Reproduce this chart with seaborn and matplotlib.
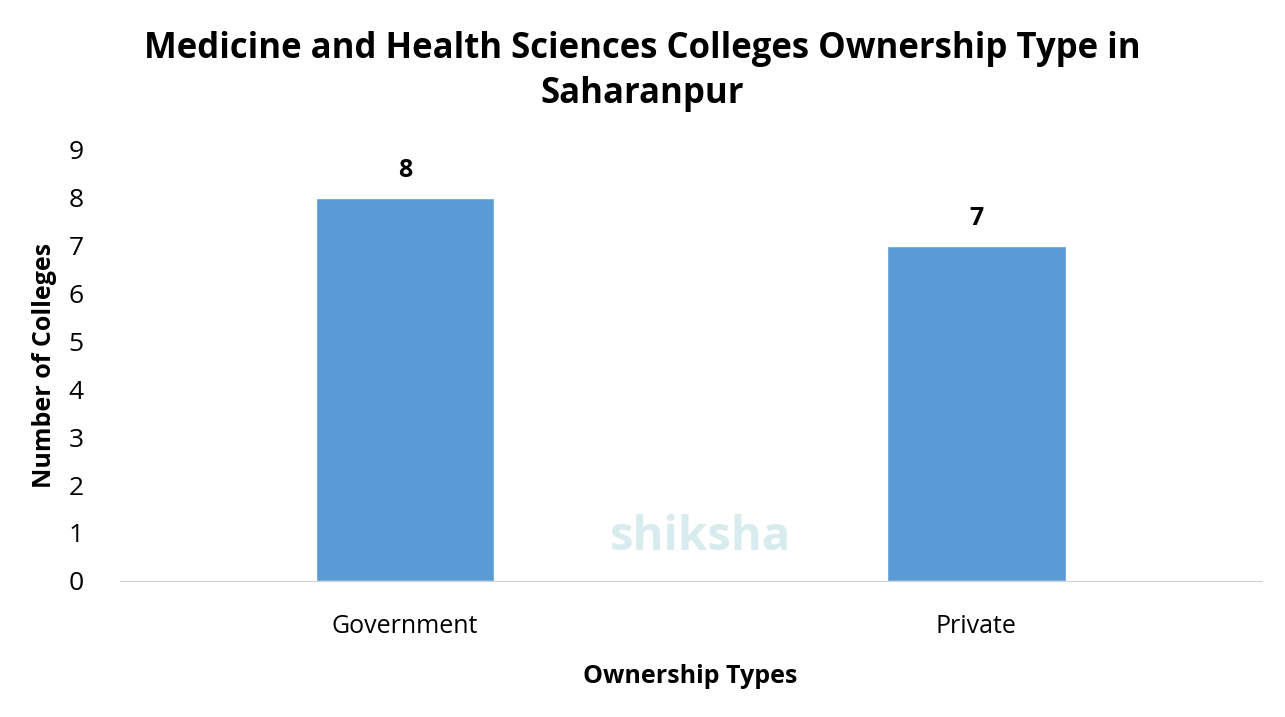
import matplotlib
matplotlib.use("Agg")
import matplotlib.pyplot as plt
import seaborn as sns
import pandas as pd

categories = ["Government", "Private"]
values = [8, 7]

sns.set_style("white")
plt.rcParams['font.family'] = ['Open Sans', 'DejaVu Sans']
plt.rcParams['text.color'] = 'black'
plt.rcParams['xtick.color'] = 'black'
plt.rcParams['ytick.color'] = 'black'
plt.rcParams['axes.labelcolor'] = 'black'

fig = plt.figure(figsize=(12.85, 7.17), dpi=100)
ax = fig.add_axes([0.093, 0.190, 0.889, 0.601])
df = pd.DataFrame({"cat": categories, "val": values})
sns.barplot(data=df, x="cat", y="val", color="#5B9BD5", saturation=1, width=0.313, ax=ax)
ax.set_ylim(0, 9)
ax.set_xlim(-0.5, 1.5)
ax.set_yticks(range(10))
ax.tick_params(axis='y', labelsize=19, length=0, pad=26)
ax.tick_params(axis='x', labelsize=18, length=0, pad=24)
for s in ["top", "right", "left"]:
    ax.spines[s].set_visible(False)
ax.spines["bottom"].set_color("#d0d0d0")
for i, v in enumerate(values):
    ax.text(i, v + 0.3, str(v), ha="center", va="bottom", fontsize=18, fontweight="bold")
ax.set_xlabel("Ownership Types", fontsize=18, fontweight="bold", labelpad=18)
ax.set_ylabel("Number of Colleges", fontsize=18, fontweight="bold", labelpad=8)
fig.text(0.5, 0.9, "Medicine and Health Sciences Colleges Ownership Type in\nSaharanpur",
         ha="center", va="center", fontsize=25, fontweight="bold", linespacing=1.35)
fig.text(0.545, 0.25, "shiksha", fontsize=34, color="#cfe6ea", ha="center", va="center", fontweight="bold", alpha=0.8)
fig.savefig("out.png", dpi=100)
